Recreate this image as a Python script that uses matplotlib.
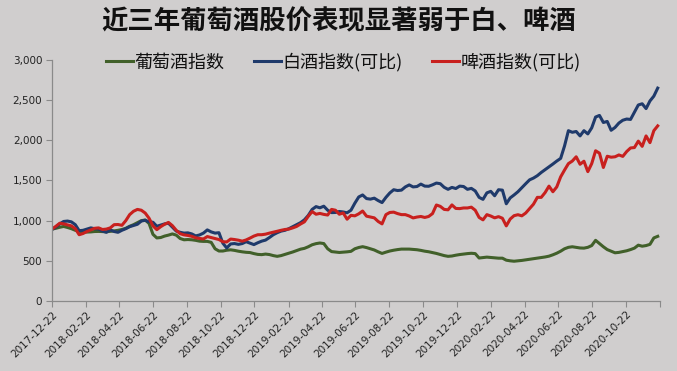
import matplotlib
matplotlib.use("Agg")
import matplotlib.pyplot as plt
import matplotlib.dates as mdates
from matplotlib.ticker import FuncFormatter, MultipleLocator
import pandas as pd

plt.rcParams['font.family'] = ['Noto Sans CJK SC', 'DejaVu Sans']

title = "近三年葡萄酒股价表现显著弱于白、啤酒"
series_names = ["葡萄酒指数", "白酒指数(可比)", "啤酒指数(可比)"]
start_date = "2017-12-22"
end_date = "2020-12-22"
n_weeks = 157

wine = [895, 905, 918, 928, 915, 900, 880, 868, 862, 858, 860, 865, 866, 864, 862, 867, 872, 880, 890, 905,
        930, 950, 975, 1000, 1008, 965, 830, 785, 790, 808, 820, 835, 820, 778, 762, 765, 762, 755, 745, 742,
        742, 730, 650, 622, 622, 632, 637, 630, 620, 612, 606, 603, 590, 580, 577, 584, 578, 565, 556, 565,
        580, 596, 610, 628, 645, 655, 675, 700, 714, 722, 715, 650, 615, 610, 604, 608, 612, 618, 650, 666,
        676, 665, 650, 635, 612, 592, 608, 622, 632, 640, 646, 646, 646, 642, 638, 630, 620, 613, 602, 592,
        578, 565, 556, 560, 570, 578, 584, 590, 594, 590, 535, 540, 546, 542, 537, 533, 533, 508, 500, 495,
        500, 505, 512, 520, 526, 533, 540, 548, 558, 575, 595, 620, 650, 668, 675, 668, 660, 658, 668, 690,
        755, 715, 675, 640, 620, 600, 605, 615, 625, 640, 658, 695, 682, 690, 705, 785, 805]

baijiu = [890, 920, 960, 990, 995, 985, 950, 875, 880, 895, 910, 900, 895, 870, 855, 885, 865, 855, 880, 900,
          925, 940, 955, 995, 1005, 985, 980, 930, 945, 960, 968, 920, 870, 855, 845, 848, 835, 810, 822, 845,
          885, 860, 845, 850, 720, 660, 710, 715, 705, 715, 738, 720, 702, 725, 745, 758, 790, 825, 850, 870,
          880, 900, 925, 950, 975, 1010, 1065, 1140, 1175, 1160, 1180, 1130, 1100, 1102, 1114, 1108, 1098, 1130, 1218, 1295,
          1320, 1275, 1268, 1280, 1250, 1225, 1290, 1345, 1385, 1375, 1380, 1420, 1445, 1420, 1425, 1455, 1430, 1428, 1446, 1468,
          1460, 1415, 1390, 1414, 1400, 1430, 1425, 1390, 1402, 1370, 1290, 1265, 1346, 1365, 1310, 1385, 1380, 1210, 1283, 1320,
          1360, 1410, 1460, 1508, 1530, 1560, 1600, 1635, 1670, 1705, 1742, 1775, 1930, 2120, 2100, 2110, 2055, 2120, 2080, 2155,
          2290, 2310, 2222, 2235, 2125, 2160, 2215, 2250, 2265, 2260, 2350, 2440, 2455, 2395, 2490, 2550, 2650]

beer = [895, 930, 968, 960, 948, 935, 900, 825, 840, 865, 885, 905, 910, 890, 895, 910, 950, 952, 942, 1000,
        1075, 1117, 1140, 1130, 1095, 1030, 935, 888, 925, 955, 978, 938, 880, 838, 823, 816, 805, 787, 778, 772,
        802, 790, 777, 765, 738, 735, 771, 765, 757, 745, 760, 783, 808, 825, 825, 832, 845, 856, 868, 880,
        890, 895, 910, 928, 958, 985, 1054, 1113, 1080, 1090, 1078, 1070, 1140, 1130, 1080, 1096, 1018, 1066, 1060, 1085,
        1120, 1056, 1045, 1035, 990, 960, 1075, 1102, 1106, 1088, 1075, 1075, 1058, 1034, 1045, 1052, 1040, 1052, 1088, 1195,
        1178, 1140, 1135, 1196, 1152, 1150, 1158, 1158, 1168, 1130, 1040, 1010, 1075, 1058, 1035, 1050, 1030, 935, 1020, 1062,
        1074, 1060, 1095, 1150, 1205, 1290, 1290, 1350, 1430, 1360, 1420, 1545, 1630, 1710, 1742, 1795, 1702, 1740, 1610, 1710,
        1870, 1840, 1662, 1802, 1790, 1795, 1818, 1800, 1860, 1905, 1910, 1990, 1925, 2055, 1971, 2120, 2180]

dates = pd.date_range(start_date, periods=n_weeks, freq="7D")

bg = "#D0CECE"
colors = ["#41602A", "#1F3A6B", "#C8201E"]

fig = plt.figure(figsize=(6.77, 3.71), dpi=100, facecolor=bg)
ax = fig.add_axes([0.0768, 0.1887, 0.898, 0.6496], facecolor=bg)

for vals, name, c in zip([wine, baijiu, beer], series_names, colors):
    ax.plot(dates, vals, color=c, lw=2.2, label=name, solid_joinstyle="round")

ax.set_ylim(0, 3000)
ax.yaxis.set_major_locator(MultipleLocator(500))
ax.yaxis.set_major_formatter(FuncFormatter(lambda v, p: f"{int(v):,}"))
ax.set_xlim(pd.Timestamp(start_date), pd.Timestamp(end_date))
ax.xaxis.set_major_locator(mdates.MonthLocator(bymonth=[2, 4, 6, 8, 10, 12], bymonthday=22))
end_ts = pd.Timestamp(end_date)
ax.xaxis.set_major_formatter(FuncFormatter(
    lambda v, p: "" if mdates.num2date(v).date() >= end_ts.date() else mdates.num2date(v).strftime("%Y-%m-%d")))

for lbl in ax.get_xticklabels():
    pass
ax.tick_params(axis="x", labelrotation=45, labelsize=7.5, colors="#8a8a8a", labelcolor="#222222",
               length=4, width=0.8, direction="out", pad=2)
ax.tick_params(axis="y", labelsize=7.5, colors="#8a8a8a", labelcolor="#222222", length=4, width=0.8, pad=3)
for lbl in ax.get_xticklabels():
    lbl.set_ha("right")
    lbl.set_rotation_mode("anchor")
    lbl.set_family("DejaVu Sans")
for lbl in ax.get_yticklabels():
    lbl.set_family("DejaVu Sans")

for s in ["top", "right"]:
    ax.spines[s].set_visible(False)
for s in ["left", "bottom"]:
    ax.spines[s].set_color("#8a8a8a")
    ax.spines[s].set_linewidth(0.9)

fig.text(0.5, 0.94, title, ha="center", va="center", fontsize=19, fontweight="bold", color="#111111")

leg = fig.legend(loc="center", bbox_to_anchor=(0.507, 0.833), ncol=3, frameon=False,
                 fontsize=13, handlelength=1.5, handletextpad=0.1, columnspacing=1.6)
for t in leg.get_texts():
    t.set_color("#111111")

fig.savefig("out.png", dpi=100, facecolor=bg)
